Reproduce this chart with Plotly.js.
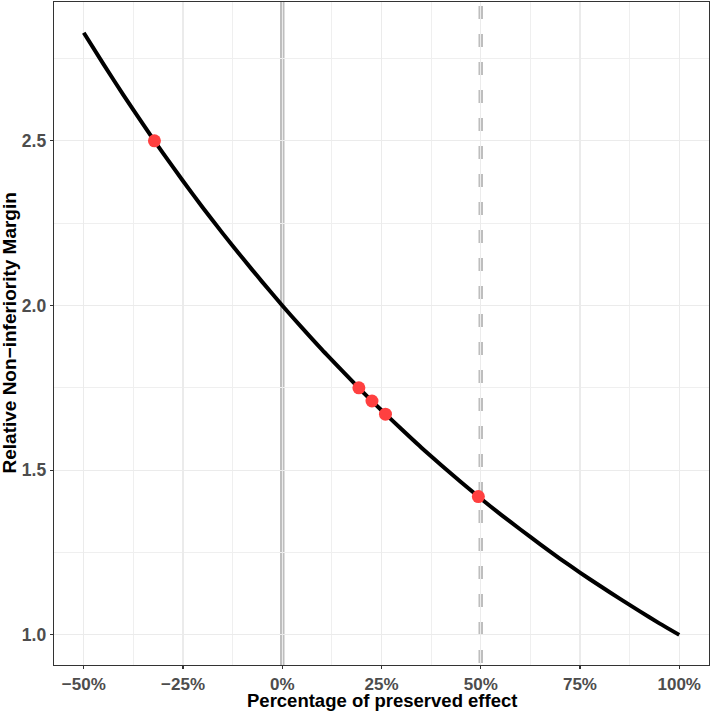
<!DOCTYPE html>
<html>
<head>
<meta charset="utf-8">
<script src="https://cdn.plot.ly/plotly-3.0.1.min.js"></script>
<style>html,body{margin:0;padding:0;background:#fff;}#chart{width:710px;height:711px;}</style>
</head>
<body>
<div id="chart"></div>
<script>
// Curve: percentage of preserved effect vs relative non-inferiority margin
const curveX = [-0.50,-0.45,-0.40,-0.35,-0.30,-0.25,-0.20,-0.15,-0.10,-0.05,0.00,0.05,0.10,0.15,0.20,0.25,0.30,0.35,0.40,0.45,0.50,0.55,0.60,0.65,0.70,0.75,0.80,0.85,0.90,0.95,1.00];
const curveY = [2.828,2.732,2.639,2.549,2.462,2.378,2.297,2.219,2.144,2.071,2.000,1.932,1.866,1.803,1.741,1.682,1.625,1.569,1.516,1.464,1.414,1.366,1.320,1.275,1.231,1.189,1.149,1.110,1.072,1.035,1.000];
// Highlighted points
const pointX = [-0.322, 0.193, 0.226, 0.260, 0.494];
const pointY = [2.50, 1.75, 1.71, 1.67, 1.42];
// Reference lines
const solidRefX = 0;
const dashedRefX = 0.5;
const xTickVals = [-0.5,-0.25,0,0.25,0.5,0.75,1.0];
const yTickVals = [1.0,1.5,2.0,2.5];
const xTitle = 'Percentage of preserved effect';
const yTitle = 'Relative Non\u2212inferiority Margin';

const fontFam = '"Liberation Sans", Arial, Helvetica, sans-serif';

const traces = [
  {x: curveX, y: curveY, type: 'scatter', mode: 'lines',
   line: {color: '#000000', width: 4, shape: 'spline', smoothing: 0.6}, hoverinfo: 'skip'},
  {x: pointX, y: pointY, type: 'scatter', mode: 'markers',
   marker: {color: '#ff4040', size: 13, line: {width: 0}}, hoverinfo: 'skip'}
];

const layout = {
  width: 710, height: 711,
  margin: {l: 54, r: 1, t: 2, b: 46},
  paper_bgcolor: '#ffffff', plot_bgcolor: '#ffffff',
  showlegend: false,
  font: {family: fontFam},
  xaxis: {
    range: [-0.575, 1.075], tickvals: xTickVals, tickformat: '.0%',
    showgrid: true, gridcolor: '#ebebeb', gridwidth: 1.2,
    minor: {dtick: 0.125, tick0: 0, showgrid: true, gridcolor: '#efefef', gridwidth: 1, ticks: ''},
    zeroline: false, showline: true, mirror: true, linecolor: '#333333', linewidth: 1.3,
    ticks: 'outside', ticklen: 3, tickcolor: '#333333', tickwidth: 1.1,
    tickfont: {size: 17, color: '#4d4d4d', weight: 'bold', family: fontFam},
    automargin: false
  },
  yaxis: {
    range: [0.9085, 2.9215], tickvals: yTickVals, tickformat: '.1f',
    showgrid: true, gridcolor: '#ebebeb', gridwidth: 1.2,
    minor: {dtick: 0.25, tick0: 0, showgrid: true, gridcolor: '#efefef', gridwidth: 1, ticks: ''},
    zeroline: false, showline: true, mirror: true, linecolor: '#333333', linewidth: 1.3,
    ticks: 'outside', ticklen: 3, tickcolor: '#333333', tickwidth: 1.1,
    tickfont: {size: 17.5, color: '#4d4d4d', weight: 'bold', family: fontFam},
    automargin: false
  },
  annotations: [
    {text: xTitle, xref: 'paper', yref: 'paper', x: 0.5, y: 0, xanchor: 'center', yanchor: 'middle',
     yshift: -35.5, showarrow: false, font: {size: 18.5, color: '#000000', weight: 'bold', family: fontFam}},
    {text: yTitle, xref: 'paper', yref: 'paper', x: 0, y: 0.5, xanchor: 'center', yanchor: 'middle',
     xshift: -45, textangle: -90, showarrow: false, font: {size: 19, color: '#000000', weight: 'bold', family: fontFam}}
  ],
  shapes: [
    {type: 'line', xref: 'x', yref: 'paper', x0: solidRefX, x1: solidRefX, y0: 0, y1: 1,
     line: {color: '#bebebe', width: 4.5}, layer: 'below'},
    {type: 'line', xref: 'x', yref: 'paper', x0: dashedRefX, x1: dashedRefX, y0: 0.003, y1: 1,
     line: {color: '#bebebe', width: 4.5, dash: '13px,15px'}, layer: 'below'}
  ]
};

Plotly.newPlot('chart', traces, layout, {staticPlot: true, displayModeBar: false});
</script>
</body>
</html>
